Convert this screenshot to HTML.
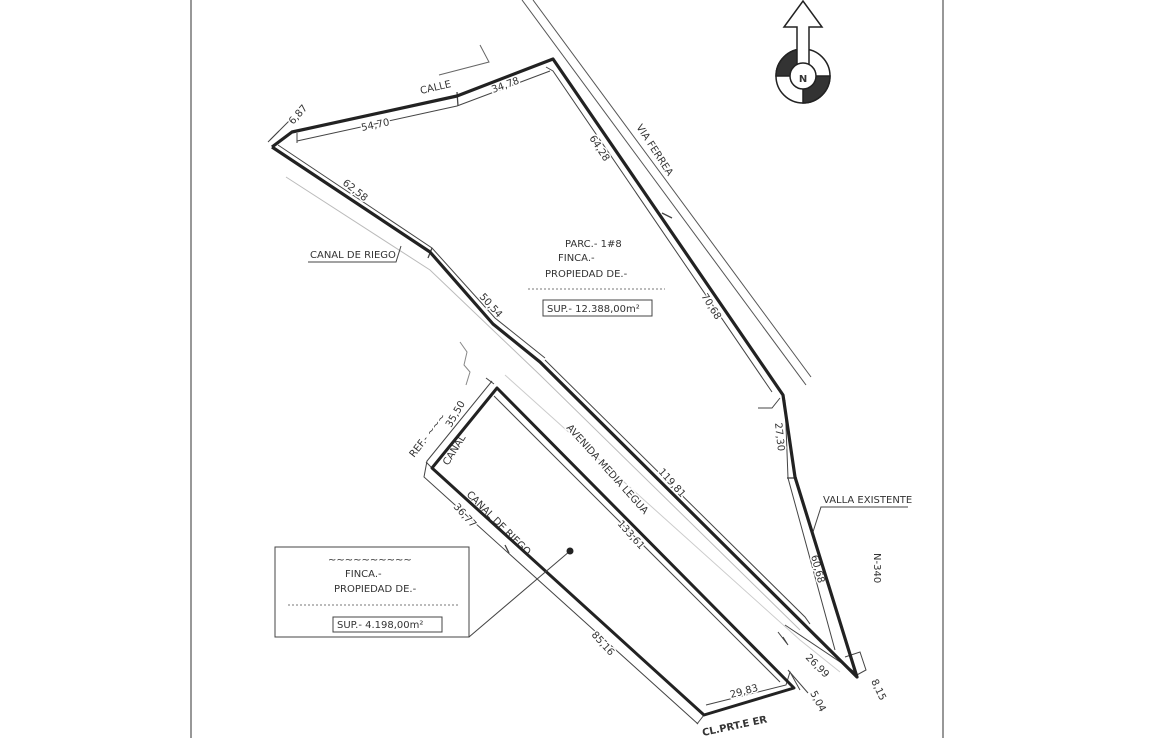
<!DOCTYPE html>
<html><head><meta charset="utf-8"><style>
html,body{margin:0;padding:0;background:#fff;width:1170px;height:738px;overflow:hidden}
svg{display:block}
text{font-family:"DejaVu Sans","Liberation Sans",sans-serif;fill:#333;font-size:10px;stroke:#fff;stroke-width:3px;paint-order:stroke;stroke-linejoin:round}
</style></head><body>
<svg width="1170" height="738" viewBox="0 0 1170 738" xmlns="http://www.w3.org/2000/svg">
<rect width="1170" height="738" fill="#fff"/>
<line x1="191" y1="0" x2="191" y2="738" stroke="#777" stroke-width="1.5"/>
<line x1="943" y1="0" x2="943" y2="738" stroke="#777" stroke-width="1.5"/>

<line x1="522" y1="0" x2="806" y2="385" stroke="#555" stroke-width="1"/>
<line x1="533" y1="0" x2="811" y2="377" stroke="#555" stroke-width="1"/>
<polyline points="439,75 489,62 480,45" fill="none" stroke="#666" stroke-width="1"/>
<polyline points="286,177 430,270 540,375 800,630" fill="none" stroke="#bbb" stroke-width="1"/>
<polyline points="505,375 800,640 840,672" fill="none" stroke="#ccc" stroke-width="1"/>
<polyline points="460,342 467,352 464,365 470,372 466,385" fill="none" stroke="#888" stroke-width="1"/>

<polyline points="297,141 457,106 550,71" fill="none" stroke="#444" stroke-width="1"/>
<line x1="297" y1="133" x2="297" y2="143" stroke="#444"/>
<line x1="457" y1="92" x2="458" y2="106" stroke="#444" stroke-width="1.3"/>
<polyline points="546,67 553,71 772,392" fill="none" stroke="#444" stroke-width="1"/>
<line x1="662" y1="213" x2="672" y2="218" stroke="#444" stroke-width="1.3"/>
<polyline points="278,145 432,248 495,318 545,358" fill="none" stroke="#444" stroke-width="1"/>
<line x1="432" y1="248" x2="428" y2="258" stroke="#444" stroke-width="1.3"/>
<line x1="539" y1="360" x2="545" y2="366" stroke="#444" stroke-width="1.3"/>
<polyline points="545,360 805,617 810,624" fill="none" stroke="#444" stroke-width="1"/>
<polyline points="785,400 788,478 835,650" fill="none" stroke="#444" stroke-width="1"/>
<line x1="787" y1="478" x2="797" y2="478" stroke="#444" stroke-width="1.3"/>
<polyline points="785,625 855,672" fill="none" stroke="#444" stroke-width="1"/>
<polyline points="758,408 772,408 780,398" fill="none" stroke="#444" stroke-width="1"/>
<polyline points="783,637 788,645 778,632" fill="none" stroke="#444" stroke-width="1"/>
<polyline points="845,657 860,652 866,670 855,676" fill="none" stroke="#444" stroke-width="1"/>
<line x1="270" y1="140" x2="279" y2="131" stroke="#444"/>
<line x1="268" y1="142" x2="290" y2="120" stroke="#444"/>
<polyline points="492,381 427,461 424,477 698,724" fill="none" stroke="#444" stroke-width="1"/>
<line x1="486" y1="378" x2="494" y2="384" stroke="#444"/>
<line x1="426" y1="462" x2="433" y2="469" stroke="#444"/>
<line x1="494" y1="396" x2="780" y2="682" stroke="#444" stroke-width="1"/>
<polyline points="706,705 786,685 790,672 800,690" fill="none" stroke="#444" stroke-width="1"/>
<line x1="788" y1="670" x2="808" y2="693" stroke="#444" stroke-width="1"/>
<line x1="505" y1="545" x2="509" y2="553" stroke="#444" stroke-width="1.3"/>
<line x1="704" y1="715" x2="697" y2="724" stroke="#444" stroke-width="1"/>

<text transform="translate(421,94) rotate(-13)" font-size="9">CALLE</text>
<text transform="translate(493,93) rotate(-20)">34,78</text>
<text transform="translate(362,131) rotate(-12)">54,70</text>
<text transform="translate(293,125) rotate(-48)">6,87</text>
<text transform="translate(589,138) rotate(57)">64,28</text>
<text transform="translate(636,127) rotate(57)" font-size="8.5">VIA FERREA</text>
<text transform="translate(342,184) rotate(38)">62,58</text>
<text x="310" y="258" font-size="8.5">CANAL DE RIEGO</text>
<polyline points="308,262 396,262 401,246" fill="none" stroke="#444" stroke-width="1"/>
<text transform="translate(479,297) rotate(48)">50,54</text>
<text x="565" y="247" font-size="8.5">PARC.- 1#8</text>
<text x="558" y="261" font-size="8.5">FINCA.- </text>
<text x="545" y="277" font-size="8.5">PROPIEDAD DE.-</text>
<line x1="528" y1="289" x2="665" y2="289" stroke="#bbb" stroke-width="2" stroke-dasharray="2,2"/>
<rect x="543" y="300" width="109" height="16" fill="none" stroke="#444" stroke-width="1"/>
<text x="547" y="312" font-size="8.5">SUP.- 12.388,00m²</text>
<text transform="translate(701,296) rotate(58)">70,68</text>
<text transform="translate(775,423) rotate(84)">27,30</text>
<text x="823" y="503" font-size="8.5">VALLA EXISTENTE</text>
<polyline points="908,507 821,507 812,535" fill="none" stroke="#444" stroke-width="1"/>
<text transform="translate(811,556) rotate(75)">60,68</text>
<text transform="translate(874,553) rotate(90)" font-size="8.5">N-340</text>
<text transform="translate(658,472) rotate(48)">119,81</text>
<text transform="translate(566,428) rotate(48)" font-size="8.5">AVENIDA MEDIA LEGUA</text>
<text transform="translate(617,524) rotate(48)">133,61</text>
<text transform="translate(448,466) rotate(-58)" font-size="8.5">CANAL</text>
<text transform="translate(451,428) rotate(-60)">35,50</text>
<text transform="translate(414,458) rotate(-52)" font-size="8">REF.- ~~~</text>
<text transform="translate(453,507) rotate(48)">36,77</text>
<text transform="translate(466,495) rotate(45)" font-size="8.5">CANAL DE RIEGO</text>
<text transform="translate(591,635) rotate(48)">85,16</text>
<text transform="translate(731,698) rotate(-15)">29,83</text>
<text transform="translate(810,693) rotate(62)">5,04</text>
<text transform="translate(805,658) rotate(45)">26,99</text>
<text transform="translate(871,681) rotate(65)">8,15</text>
<text transform="translate(703,736) rotate(-12)" font-size="10" font-weight="bold" fill="#555">CL.PRT.E ER</text>

<polyline points="272,147 292,132 457,96 553,59 783,395 795,477 857,677 540,362 493,324 430,252 272,147" fill="none" stroke="#222" stroke-width="3.2" stroke-linejoin="round"/>
<polygon points="497,388 432,468 704,715 794,688" fill="none" stroke="#222" stroke-width="3" stroke-linejoin="round"/>

<rect x="275" y="547" width="194" height="90" fill="none" stroke="#444" stroke-width="1"/>
<text x="328" y="563" font-size="8" fill="#bbb">~~~~~~~~~~</text>
<text x="345" y="577" font-size="8.5">FINCA.- </text>
<text x="334" y="592" font-size="8.5">PROPIEDAD DE.-</text>
<line x1="288" y1="605" x2="458" y2="605" stroke="#bbb" stroke-width="2" stroke-dasharray="2,2"/>
<rect x="333" y="617" width="109" height="15" fill="none" stroke="#444" stroke-width="1"/>
<text x="337" y="628" font-size="8.5">SUP.- 4.198,00m²</text>
<polyline points="469,637 570,551" fill="none" stroke="#444" stroke-width="1"/>
<circle cx="570" cy="551" r="3.5" fill="#222"/>

<g stroke="#222" stroke-width="1.5">
<circle cx="803" cy="76" r="27" fill="#fff"/>
<path d="M803,76 L776,76 A27,27 0 0 1 803,49 Z" fill="#333"/>
<path d="M803,76 L830,76 A27,27 0 0 1 803,103 Z" fill="#333"/>
<polygon points="797,68 797,27 784,27 803,1 822,27 809,27 809,68" fill="#fff"/>
<circle cx="803" cy="76" r="13" fill="#fff"/>
</g>
<text x="803" y="82" text-anchor="middle" font-family="Liberation Serif,serif" font-weight="bold" font-size="16" fill="#222" stroke="none">N</text>
</svg>
</body></html>
